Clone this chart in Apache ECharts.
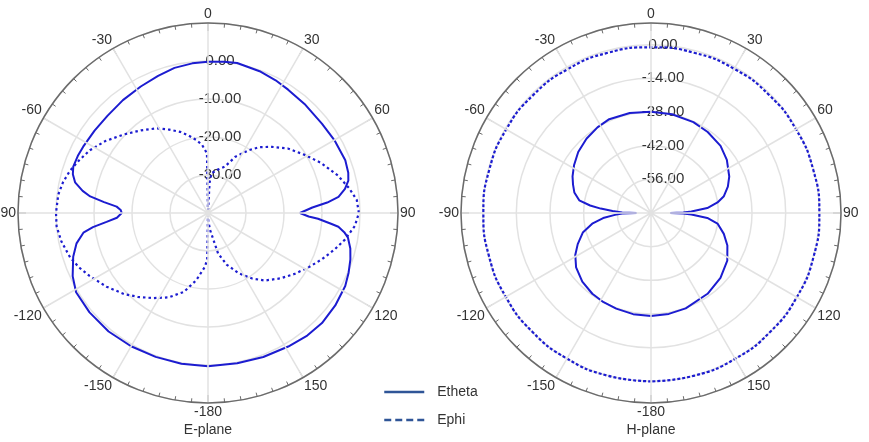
<!DOCTYPE html>
<html>
<head>
<meta charset="utf-8">
<script src="https://cdn.jsdelivr.net/npm/echarts@6/dist/echarts.min.js"></script>
<style>
  html, body { margin: 0; padding: 0; background: #fff; }
  #chart { width: 869px; height: 442px; }
</style>
</head>
<body>
<div id="chart"></div>
<script>
// E-plane, Etheta (solid)
var eThetaAng = [-180, -170, -160, -150, -140, -130, -121, -115, -108, -103, -99, -97, -95, -93, -90, -88, -86, -84, -82, -80,
  -77, -74, -71, -66, -62, -54, -46, -37, -28, -20, -13, -6, 0, 6, 11, 20, 27, 33, 42, 52, 60, 69, 74, 77, 80, 83, 85, 87,
  90, 92, 93, 95, 96, 98, 100, 104, 108, 113, 118, 126, 134, 141, 149, 159, 169, 180];
var eThetaDb = [0.3, 0.3, 0.3, 0.5, 0.7, 0.7, 0.5, -0.7, -2.7, -4.5, -6.8, -9.5, -13.2, -16, -17.3, -17, -15.9, -12.5, -8.7, -6.5,
  -4.1, -3.0, -2.5, -2.6, -2.8, -3.1, -3.2, -2.8, -2.3, -1.6, -0.8, -0.4, -0.2, 0, 0.2, -0.3, -0.8, -1.3, -1.7, -1.9, -1.6, -1.3, -1.6, -2.1, -3.4, -5.4, -8.5, -12.5,
  -15.8, -13.5, -11, -7.5, -5.5, -3.8, -2.6, -1.4, -0.6, 0.2, 0.9, 1.4, 1.7, 1.5, 1.0, 0.6, 0.3, 0.3];

// E-plane, Ephi (dashed)
var ePhiAng = [-180, -179, -177, -175, -170, -163, -155, -147, -140, -134, -126, -118, -113, -108, -101, -95, -90, -83, -78, -73,
  -68, -62, -55, -47, -39, -31, -25, -19, -14, -9, -5, -1, 0, 3, 5, 12, 20, 26, 33, 38, 44, 51, 59, 66, 74, 80, 85, 90,
  95, 101, 106, 112, 118, 125, 132, 140, 146, 153, 160, 166, 173, 178, 180];
var ePhiDb = [-40, -28, -26, -25, -22, -18.3, -15.5, -13.3, -11.2, -9.3, -7, -4.7, -3.2, -1.9, -0.7, 0, 0, -0.3, -1.0, -2,
  -3.3, -4.8, -7, -9.7, -12, -14, -15.8, -17.4, -19, -20.6, -22, -24.3, -40, -32, -29.5, -28.4, -27, -23.5, -20.3, -18, -15.8, -13, -10.3, -7.5, -4.4, -2.3, -0.7, -0.3,
  -1.2, -3.3, -5.3, -7.6, -9.8, -12.1, -14.3, -16.8, -19.2, -22.2, -25.5, -29, -35.5, -38, -40];

// H-plane, Etheta (solid)
var hThetaAng = [-180, -170, -160, -152, -144, -135, -126, -119, -113, -106, -100, -96, -93, -91, -90, -89, -87, -85, -83, -80,
  -75, -70, -65, -58, -50, -41, -32, -24, -12, 0, 12, 25, 35, 46, 55, 65, 71, 77, 81, 85, 88, 89, 90, 91, 92, 95,
  99, 106, 113, 122, 133, 145, 160, 170, 180];
var hThetaDb = [-27.2, -27.3, -27.7, -28, -28.5, -29.6, -31.5, -34, -36.9, -40.5, -45.4, -50, -55, -58, -64, -58, -54, -49, -44.5, -39.7,
  -37, -35.5, -34, -32.3, -30.5, -29.1, -28, -27.3, -27.5, -27.9, -28, -28.3, -28.9, -29.8, -31.5, -34.1, -36.2, -38.9, -42, -46.5, -53.2, -56.6, -62, -56.6, -53.2, -46.5,
  -42, -38.5, -35.5, -32.6, -30.5, -29, -27.8, -27.4, -27.2];

// H-plane, Ephi (dashed)
var hPhiAng = [-180, -165, -150, -135, -120, -105, -90, -75, -60, -45, -30, -15, 0, 15, 30, 45, 60, 75, 90, 105, 120, 135, 150, 165, 180];
var hPhiDb = [0, 0, -0.1, -0.2, -0.3, -0.3, -0.3, -0.4, -0.5, -0.7, -0.9, -1.0, -1.1, -1.0, -0.8, -0.6, -0.4, -0.2, 0, 0, 0, 0, 0, 0, 0];

var angleLabels = [0, 30, 60, 90, 120, 150, -180, -150, -120, -90, -60, -30];

function toPolar(angs, dbs) {
  return angs.map(function (a, i) {
    return [dbs[i], a < 0 ? a + 360 : a];
  });
}

var lineColor = '#1c1cd0';
var legendColor = '#2f5597';
var gridColor = '#e2e2e2';
var textColor = '#333';
var fontFamily = 'Liberation Sans, Arial, sans-serif';

function angleAxis(idx) {
  return {
    polarIndex: idx,
    type: 'value',
    min: 0,
    max: 360,
    interval: 30,
    startAngle: 90,
    clockwise: true,
    z: 10,
    axisLine: { lineStyle: { color: '#6b6b6b', width: 1.5 } },
    axisTick: { show: true, inside: true, length: 8, lineStyle: { color: '#6b6b6b', width: 1 } },
    minorTick: { show: true, splitNumber: 6, length: 4, lineStyle: { color: '#6b6b6b', width: 1 } },
    axisLabel: {
      margin: 2,
      color: textColor,
      fontSize: 14,
      fontFamily: fontFamily,
      formatter: function (v) {
        var a = v >= 180 ? v - 360 : v;
        return angleLabels.indexOf(a) >= 0 ? String(a) : '';
      }
    },
    splitLine: { show: true, lineStyle: { color: gridColor, width: 1.5 } }
  };
}

function radiusAxis(idx, mn, mx, step) {
  return {
    polarIndex: idx,
    type: 'value',
    min: mn,
    max: mx,
    interval: step,
    axisLine: { show: false },
    axisTick: { show: false },
    axisLabel: {
      showMinLabel: false,
      showMaxLabel: false,
      margin: -12,
      align: 'center',
      verticalAlign: 'middle',
      color: textColor,
      fontSize: 15,
      fontFamily: fontFamily,
      formatter: function (v) { return v.toFixed(2); }
    },
    splitLine: { show: true, lineStyle: { color: gridColor, width: 1.5 } }
  };
}

var chart = echarts.init(document.getElementById('chart'));
var option = {
  animation: false,
  backgroundColor: '#fff',
  polar: [
    { center: [208, 213], radius: 190 },
    { center: [651, 213], radius: 190 }
  ],
  angleAxis: [angleAxis(0), angleAxis(1)],
  radiusAxis: [radiusAxis(0, -40, 10, 10), radiusAxis(1, -70, 9, 14)],
  legend: {
    orient: 'vertical',
    left: 383,
    top: 385,
    padding: 0,
    itemWidth: 40,
    itemHeight: 14,
    itemGap: 14,
    textStyle: { color: textColor, fontSize: 14, fontFamily: fontFamily, padding: [0, 0, 0, 8] },
    data: [
      { name: 'Etheta', itemStyle: { opacity: 0 }, lineStyle: { color: legendColor, width: 2.5, type: 'solid', opacity: 1 } },
      { name: 'Ephi', itemStyle: { opacity: 0 }, lineStyle: { color: legendColor, width: 2.5, type: [7, 4], opacity: 1 } }
    ]
  },
  graphic: [
    { type: 'text', x: 208, y: 430, style: { text: 'E-plane', fill: textColor, font: '14px ' + fontFamily, align: 'center', verticalAlign: 'middle' } },
    { type: 'text', x: 651, y: 430, style: { text: 'H-plane', fill: textColor, font: '14px ' + fontFamily, align: 'center', verticalAlign: 'middle' } }
  ],
  series: [
    {
      name: 'Etheta', type: 'line', coordinateSystem: 'polar', polarIndex: 0,
      symbol: 'none',
      lineStyle: { color: lineColor, width: 2 },
      data: toPolar(eThetaAng, eThetaDb)
    },
    {
      name: 'Ephi', type: 'line', coordinateSystem: 'polar', polarIndex: 0,
      symbol: 'none',
      lineStyle: { color: lineColor, width: 2.2, type: [2.5, 3] },
      data: toPolar(ePhiAng, ePhiDb)
    },
    {
      name: 'Etheta', type: 'line', coordinateSystem: 'polar', polarIndex: 1,
      symbol: 'none',
      lineStyle: { color: lineColor, width: 2 },
      data: toPolar(hThetaAng, hThetaDb)
    },
    {
      name: 'Ephi', type: 'line', coordinateSystem: 'polar', polarIndex: 1,
      symbol: 'none', smooth: 0.5,
      lineStyle: { color: lineColor, width: 2.2, type: [3, 2] },
      data: toPolar(hPhiAng, hPhiDb)
    }
  ]
};
chart.setOption(option);
</script>
</body>
</html>
